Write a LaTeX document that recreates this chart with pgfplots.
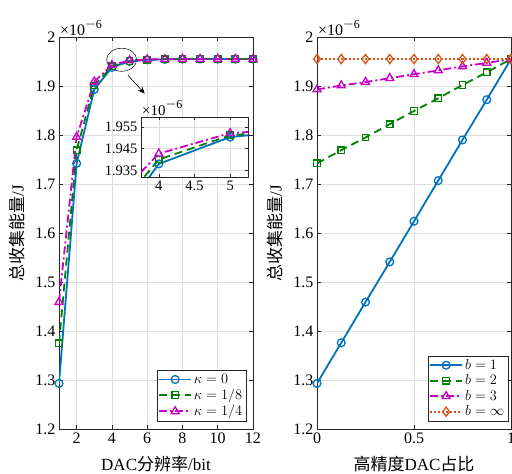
\documentclass[border=0pt]{standalone}
\usepackage{pgfplots}
\pgfplotsset{compat=1.18}
\usepackage{fontspec}
\setmainfont{Liberation Serif}
\newfontfamily\cjk{Noto Sans CJK SC}
\usetikzlibrary{arrows.meta}
\definecolor{mblue}{rgb}{0,0.447,0.741}
\definecolor{mgreen}{rgb}{0,0.5,0}
\definecolor{mmag}{rgb}{0.78,0,0.78}
\definecolor{morange}{rgb}{0.85,0.325,0.098}
\definecolor{mgrid}{rgb}{0.87,0.87,0.87}
\definecolor{maxis}{rgb}{0.15,0.15,0.15}
\newcommand{\expo}[1]{{\fontsize{#1}{#1}\selectfont ×10\raisebox{0.45em}{\fontsize{12}{12}\selectfont\kern0.5pt\scalebox{1.45}[1]{−}\kern0.3pt 6}}}
\pgfplotsset{
  mystyle/.style={
    scale only axis, width=194pt, height=392pt,
    axis line style={maxis}, tick style={maxis, line width=0.5pt},
    tick align=inside, major tick length=4pt,
    grid=major, major grid style={mgrid, line width=0.5pt},
    ticklabel style={font=\fontsize{16}{16}\selectfont, text=black},
    /pgf/number format/assume math mode=true,
    ymin=1.2, ymax=2,
    ytick={1.2,1.3,1.4,1.5,1.6,1.7,1.8,1.9,2},
    yticklabels={1.2,1.3,1.4,1.5,1.6,1.7,1.8,1.9,2},
    label style={font=\fontsize{17}{17}\selectfont},
    xlabel style={at={(axis description cs:0.5,-0.09)}, anchor=center},
    ylabel style={at={(axis description cs:-0.216,0.5)}, anchor=center},
    legend cell align=left,
    legend image code/.code={\draw[mark repeat=2,mark phase=2,#1] plot coordinates {(0pt,0pt)(16pt,0pt)(32pt,0pt)};},
  },
  s1/.style={mblue, line width=1.8pt, mark=o, mark size=3.9pt, mark options={solid, line width=1.3pt}},
  s2/.style={mgreen, line width=1.8pt, dash pattern=on 8pt off 5pt, mark=square, mark size=3.3pt, mark options={solid, line width=1.3pt}},
  s3/.style={mmag, line width=1.8pt, dash pattern=on 8pt off 3pt on 2pt off 3pt, mark=triangle, mark size=4.6pt, mark options={solid, line width=1.3pt}},
  s4/.style={morange, line width=1.8pt, dash pattern=on 2pt off 2pt, mark=diamond, mark size=4.6pt, mark options={solid, line width=1.3pt}},
}
\pgfplotstableread{
x   k0      k1      k2
1   1.293   1.375   1.459
2   1.742   1.769   1.796
3   1.893   1.901   1.909
4   1.938   1.940   1.9427
5   1.9503  1.9511  1.9521
6   1.9535  1.9538  1.9541
7   1.9545  1.9546  1.9547
8   1.955   1.955   1.955
9   1.955   1.955   1.955
10  1.955   1.955   1.955
11  1.955   1.955   1.955
12  1.955   1.955   1.955
}\lefttable
\pgfplotstableread{
x      b1     b2     b3     binf
0      1.293  1.742  1.893  1.955
0.125  1.376  1.769  1.901  1.955
0.25   1.459  1.795  1.908  1.955
0.375  1.541  1.822  1.916  1.955
0.5    1.624  1.849  1.924  1.955
0.625  1.707  1.875  1.932  1.955
0.75   1.790  1.902  1.940  1.955
0.875  1.872  1.928  1.947  1.955
1      1.955  1.955  1.955  1.955
}\righttable
\begin{document}
\begin{tikzpicture}
\begin{axis}[mystyle, name=L, at={(59pt,45pt)}, anchor=south west,
  xmin=1, xmax=12, xtick={2,4,6,8,10,12}, xticklabels={2,4,6,8,10,12},
  xlabel={DAC{\cjk 分辨率}/bit}, ylabel={{\cjk 总收集能量}/J},
  legend style={at={(0.964,0.02)}, anchor=south east, draw=maxis, fill=white,
    font=\fontsize{15.5}{19}\selectfont, inner sep=1.5pt, row sep=0pt}]
\addplot[s1] table[x=x,y=k0] {\lefttable};
\addplot[s2] table[x=x,y=k1] {\lefttable};
\addplot[s3] table[x=x,y=k2] {\lefttable};
\legend{$\kappa=0$,$\kappa=1/8$,$\kappa=1/4$}
\draw[maxis, line width=0.6pt] (axis cs:4.55,1.9535) ellipse [x radius=15pt, y radius=11.5pt];
\draw[black, line width=0.6pt, -{Stealth[length=7pt,width=6pt]}] (axis cs:4.91,1.9218) -- (axis cs:5.86,1.8845);
\end{axis}
\node[anchor=south west, inner sep=1pt] at (L.north west) {\expo{16}};
\begin{axis}[mystyle, name=I, scale only axis, width=107pt, height=60pt, at={(141pt,297pt)}, anchor=south west,
  xmin=3.75, xmax=5.25, ymin=1.932, ymax=1.9595,
  xtick={4,4.5,5}, xticklabels={4,4.5,5},
  ytick={1.935,1.945,1.955}, yticklabels={1.935,1.945,1.955},
  ticklabel style={font=\fontsize{14.5}{14.5}\selectfont},
  major tick length=3pt,
  axis background/.style={fill=white}]
\addplot[s1] table[x=x,y=k0] {\lefttable};
\addplot[s2] table[x=x,y=k1] {\lefttable};
\addplot[s3] table[x=x,y=k2] {\lefttable};
\end{axis}
\node[anchor=south west, inner sep=1pt] at (I.north west) {\expo{15}};
\begin{axis}[mystyle, name=R, at={(317pt,45pt)}, anchor=south west,
  xmin=0, xmax=1, xtick={0,0.5,1}, xticklabels={0,0.5,1},
  xlabel={{\cjk 高精度}DAC{\cjk 占比}}, ylabel={{\cjk 总收集能量}/J},
  legend style={at={(0.985,0.02)}, anchor=south east, draw=maxis, fill=white,
    font=\fontsize{15.5}{19}\selectfont, inner sep=1.5pt, row sep=0pt}]
\addplot[s1] table[x=x,y=b1] {\righttable};
\addplot[s2] table[x=x,y=b2] {\righttable};
\addplot[s3] table[x=x,y=b3] {\righttable};
\addplot[s4] table[x=x,y=binf] {\righttable};
\legend{$b=1$,$b=2$,$b=3$,$b=\infty$}
\end{axis}
\node[anchor=south west, inner sep=1pt] at (R.north west) {\expo{16}};
\pgfresetboundingbox
\path (0,0) rectangle (512pt,474pt);
\end{tikzpicture}
\end{document}
